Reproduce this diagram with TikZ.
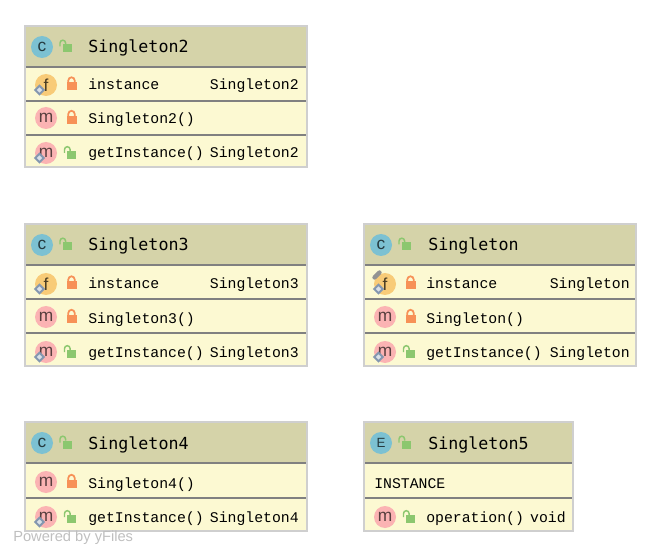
\documentclass[tikz,border=0pt]{standalone}
\usepackage{fontspec}
\setmainfont{Liberation Sans}
\setmonofont{Liberation Mono}
\newfontfamily\titlefont{DejaVu Sans Mono}
\definecolor{headfill}{HTML}{D5D3A9}
\definecolor{rowfill}{HTML}{FCF9D2}
\definecolor{frameline}{HTML}{CFCFCF}
\definecolor{sepline}{HTML}{808080}
\definecolor{classblue}{HTML}{7CC1D2}
\definecolor{fieldgold}{HTML}{F8CB78}
\definecolor{methodpink}{HTML}{FBB3B3}
\definecolor{lockgreen}{HTML}{8CC76F}
\definecolor{lockorange}{HTML}{F79157}
\definecolor{pingrey}{HTML}{8497B0}
\tikzset{
  x=0.75pt,y=-0.75pt,
  head/.style={fill=headfill},
  body/.style={fill=rowfill},
  frame/.style={draw=frameline,line width=0.9pt},
  sep/.style={draw=sepline,line width=1.1pt},
  title/.style={anchor=base west,inner sep=0pt,font=\titlefont\fontsize{12.5}{14}\selectfont},
  member/.style={anchor=base west,inner sep=0pt,font=\ttfamily\fontsize{11.1}{13}\selectfont},
  type/.style={anchor=base east,inner sep=0pt,font=\ttfamily\fontsize{11.1}{13}\selectfont},
  badge/.style={circle,minimum size=16.5pt,inner sep=0pt,font=\fontsize{13}{15}\selectfont},
  cbadge/.style={badge,fill=classblue,text=black!70!classblue},
  fbadge/.style={badge,fill=fieldgold,text=black!70!fieldgold},
  mbadge/.style={badge,fill=methodpink,text=black!65!methodpink},
  pics/openlock/.style={code={
    \fill[lockgreen] (-4.5,-3) rectangle (4.5,5);
    \draw[lockgreen,line width=1.1pt] (-7,-1) -- (-7,-4.5) arc (180:360:2.8) -- (-1.4,-3);
  }},
  pics/closedlock/.style={code={
    \fill[lockorange] (-5,-2.5) rectangle (5,5.5);
    \draw[lockorange,line width=1.3pt] (-3.2,-2.5) -- (-3.2,-4.5) arc (180:360:3.2) -- (3.2,-2.5);
  }},
  pics/pindiamond/.style={code={
    \draw[pingrey,line width=1.5pt,fill=white!70!pingrey] (-4.2,0) -- (0,-4.2) -- (4.2,0) -- (0,4.2) -- cycle;
  }},
  pics/pinstatic/.style={code={
    \draw[gray!85,line width=3.2pt,line cap=round] (-2.5,2.5) -- (2.5,-2.5);
  }}
}
\begin{document}
\begin{tikzpicture}
 \useasboundingbox (0,0) rectangle (661,556);
 % Singleton2
 \fill[head] (25,26) rectangle (307,67);
 \fill[body] (25,67) rectangle (307,167);
 \draw[sep] (25,67)--(307,67);
 \draw[sep] (25,101)--(307,101);
 \draw[sep] (25,135)--(307,135);
 \draw[frame] (25,26) rectangle (307,167);
 \node[cbadge] (cTwo) at (42,47) {c};
 \pic at (67,47.5) {openlock};
 \node[title] (titleTwo) at (88,53) {Singleton2};
 \node[fbadge] (fTwo) at (46,85) {f};
 \pic at (39.5,90) {pindiamond};
 \pic at (71.5,85) {closedlock};
 \node[member] (instTwo) at (88,90) {instance};
 \node[type] (instTypeTwo) at (299,90) {Singleton2};
 \node[mbadge] (ctorIconTwo) at (46,118) {m};
 \pic at (71.5,118.5) {closedlock};
 \node[member] (ctorTwo) at (88,124) {Singleton2()};
 \node[mbadge] (getIconTwo) at (46,153) {m};
 \pic at (39.5,158) {pindiamond};
 \pic at (71.5,154) {openlock};
 \node[member] (getTwo) at (88,158) {getInstance()};
 \node[type] (getTypeTwo) at (299,158) {Singleton2};
 % Singleton3
 \fill[head] (25,224) rectangle (307,265);
 \fill[body] (25,265) rectangle (307,366);
 \draw[sep] (25,265)--(307,265);
 \draw[sep] (25,299)--(307,299);
 \draw[sep] (25,333)--(307,333);
 \draw[frame] (25,224) rectangle (307,366);
 \node[cbadge] (cThree) at (42,245) {c};
 \pic at (67,245.5) {openlock};
 \node[title] (titleThree) at (88,251) {Singleton3};
 \node[fbadge] (fThree) at (46,284) {f};
 \pic at (39.5,289) {pindiamond};
 \pic at (71.5,284) {closedlock};
 \node[member] (instThree) at (88,289) {instance};
 \node[type] (instTypeThree) at (299,289) {Singleton3};
 \node[mbadge] (ctorIconThree) at (46,317) {m};
 \pic at (71.5,317.5) {closedlock};
 \node[member] (ctorThree) at (88,323) {Singleton3()};
 \node[mbadge] (getIconThree) at (46,352) {m};
 \pic at (39.5,357) {pindiamond};
 \pic at (71.5,353) {openlock};
 \node[member] (getThree) at (88,357) {getInstance()};
 \node[type] (getTypeThree) at (299,357) {Singleton3};
 % Singleton
 \fill[head] (364,224) rectangle (636,265);
 \fill[body] (364,265) rectangle (636,366);
 \draw[sep] (364,265)--(636,265);
 \draw[sep] (364,299)--(636,299);
 \draw[sep] (364,333)--(636,333);
 \draw[frame] (364,224) rectangle (636,366);
 \node[cbadge] (cOne) at (381,245) {c};
 \pic at (406,245.5) {openlock};
 \node[title] (titleOne) at (428,251) {Singleton};
 \node[fbadge] (fOne) at (385,284) {f};
 \pic at (377,275) {pinstatic};
 \pic at (378.5,289) {pindiamond};
 \pic at (410.5,284) {closedlock};
 \node[member] (instOne) at (426,289) {instance};
 \node[type] (instTypeOne) at (630,289) {Singleton};
 \node[mbadge] (ctorIconOne) at (385,317) {m};
 \pic at (410.5,317.5) {closedlock};
 \node[member] (ctorOne) at (426,323) {Singleton()};
 \node[mbadge] (getIconOne) at (385,352) {m};
 \pic at (378.5,357) {pindiamond};
 \pic at (410.5,353) {openlock};
 \node[member] (getOne) at (426,357) {getInstance()};
 \node[type] (getTypeOne) at (630,357) {Singleton};
 % Singleton4
 \fill[head] (25,422) rectangle (307,463);
 \fill[body] (25,463) rectangle (307,531);
 \draw[sep] (25,463)--(307,463);
 \draw[sep] (25,498)--(307,498);
 \draw[frame] (25,422) rectangle (307,531);
 \node[cbadge] (cFour) at (42,443) {c};
 \pic at (67,443.5) {openlock};
 \node[title] (titleFour) at (88,449) {Singleton4};
 \node[mbadge] (ctorIconFour) at (46,482) {m};
 \pic at (71.5,482.5) {closedlock};
 \node[member] (ctorFour) at (88,488) {Singleton4()};
 \node[mbadge] (getIconFour) at (46,517) {m};
 \pic at (39.5,522) {pindiamond};
 \pic at (71.5,518) {openlock};
 \node[member] (getFour) at (88,522) {getInstance()};
 \node[type] (getTypeFour) at (299,522) {Singleton4};
 % Singleton5
 \fill[head] (364,422) rectangle (573,463);
 \fill[body] (364,463) rectangle (573,531);
 \draw[sep] (364,463)--(573,463);
 \draw[sep] (364,498)--(573,498);
 \draw[frame] (364,422) rectangle (573,531);
 \node[cbadge,font=\fontsize{10}{12}\selectfont] (eFive) at (381,443) {E};
 \pic at (406,443.5) {openlock};
 \node[title] (titleFive) at (428,449) {Singleton5};
 \node[member] (instFive) at (374,488) {INSTANCE};
 \node[mbadge] (opIconFive) at (385,517) {m};
 \pic at (410.5,518) {openlock};
 \node[member] (opFive) at (426,522) {operation()};
 \node[type] (opTypeFive) at (566,522) {void};
 % watermark
 \node[anchor=base west,inner sep=0pt,text=black!25,font=\fontsize{11}{13}\selectfont] (powered) at (13,541) {Powered by yFiles};
\end{tikzpicture}
\end{document}
